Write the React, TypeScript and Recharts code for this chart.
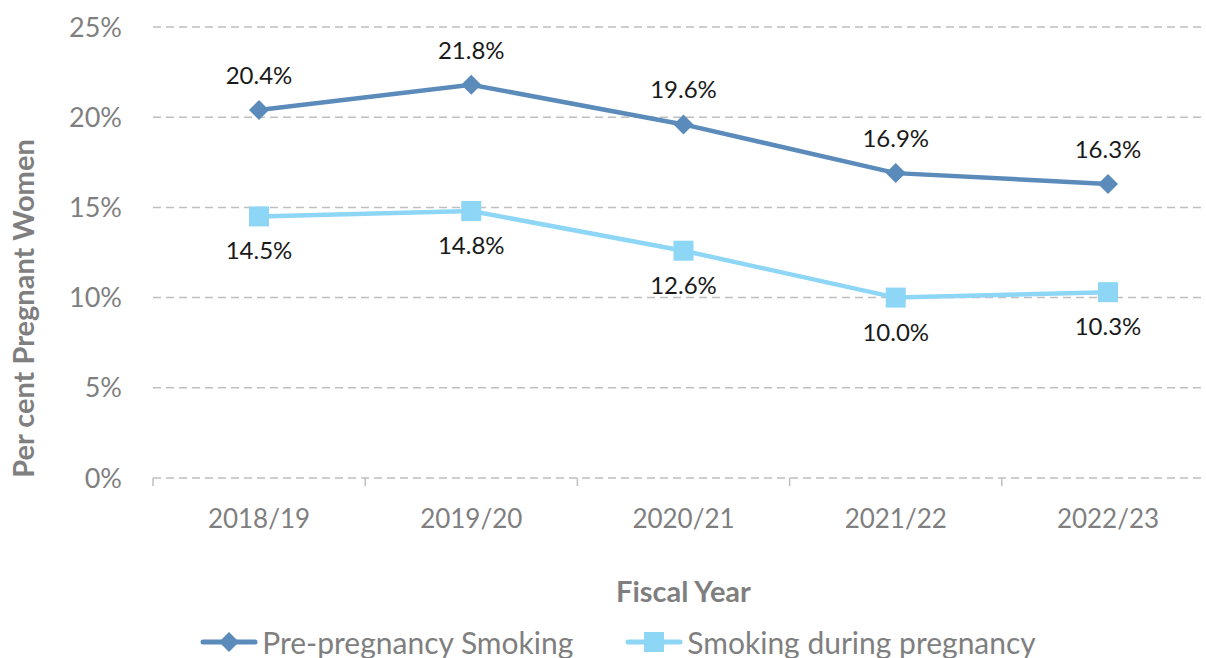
import React from "react";
import {
  CartesianGrid,
  LabelList,
  Legend,
  Line,
  LineChart,
  XAxis,
  YAxis,
} from "recharts";

const years = ["2018/19", "2019/20", "2020/21", "2021/22", "2022/23"];
const prePregnancy = [20.4, 21.8, 19.6, 16.9, 16.3];
const duringPregnancy = [14.5, 14.8, 12.6, 10.0, 10.3];
const yTicks = [0, 5, 10, 15, 20, 25];
const yearEdges = [0, 1, 2, 3, 4, 5];

const DARK = "#5b8bba";
const LIGHT = "#8dd6f6";
const GREY = "#7f7f7f";
const FONT = "Lato, 'Open Sans', sans-serif";

const data = years.map((year, i) => ({
  year,
  pre: prePregnancy[i],
  during: duringPregnancy[i],
}));

const pct = (v: number) => `${Number(v).toFixed(1)}%`;

const Diamond = (props: any) => {
  const { cx, cy, index } = props;
  if (cx == null || cy == null) return <g key={`d-${index}`} />;
  const r = 10;
  return (
    <polygon
      key={`d-${index}`}
      points={`${cx},${cy - r} ${cx + r},${cy} ${cx},${cy + r} ${cx - r},${cy}`}
      fill={DARK}
    />
  );
};

const Square = (props: any) => {
  const { cx, cy, index } = props;
  if (cx == null || cy == null) return <g key={`s-${index}`} />;
  const r = 10;
  return <rect key={`s-${index}`} x={cx - r} y={cy - r} width={2 * r} height={2 * r} fill={LIGHT} />;
};

const LegendIcon = ({ color, diamond }: { color: string; diamond: boolean }) => (
  <svg width={58} height={24} style={{ marginRight: 4 }}>
    <line x1={3} y1={12} x2={55} y2={12} stroke={color} strokeWidth={5} strokeLinecap="round" />
    {diamond ? (
      <polygon points="29,2 39,12 29,22 19,12" fill={color} />
    ) : (
      <rect x={19} y={2} width={20} height={20} fill={color} />
    )}
  </svg>
);

const renderLegend = (props: any) => {
  const items = props.payload || [];
  return (
    <div
      style={{
        display: "flex",
        justifyContent: "center",
        gap: 52,
        fontFamily: FONT,
        fontSize: 30,
        lineHeight: "24px",
        color: GREY,
        paddingLeft: 22,
      }}
    >
      {items.map((it: any) => (
        <div key={it.value} style={{ display: "flex", alignItems: "center" }}>
          <LegendIcon color={it.color} diamond={it.dataKey === "pre"} />
          <span>{it.value}</span>
        </div>
      ))}
    </div>
  );
};

const YTitle = (props: any) => {
  const vb = props.viewBox || { x: 0, y: 0, height: 0 };
  const x = vb.x + 22;
  const y = vb.y + vb.height / 2 + 56;
  return (
    <text
      x={x}
      y={y}
      transform={`rotate(-90, ${x}, ${y})`}
      textAnchor="middle"
      dominantBaseline="central"
      fill={GREY}
      fontWeight="bold"
      fontSize={29}
      fontFamily={FONT}
    >
      Per cent Pregnant Women
    </text>
  );
};

export default function App() {
  return (
    <div style={{ width: 1206, height: 658, overflow: "hidden", background: "#fff" }}>
      <style>{"body{margin:0}"}</style>
      <LineChart
        width={1214}
        height={670}
        data={data}
        margin={{ top: 27, right: 0, left: 0, bottom: 0 }}
        style={{ fontFamily: FONT }}
      >
        <CartesianGrid
          vertical={false}
          stroke="#bfbfbf"
          strokeWidth={1.5}
          strokeDasharray="8 5"
        />
        {/* boundary tick marks between fiscal years */}
        <XAxis
          type="number"
          dataKey="edge"
          domain={[0, 5]}
          allowDataOverflow
          ticks={yearEdges}
          height={1}
          tick={() => <g />}
          axisLine={false}
          tickLine={{ stroke: "#bfbfbf", strokeWidth: 1.5 }}
          tickSize={8}
        />
        <XAxis
          xAxisId="years"
          dataKey="year"
          height={151}
          padding={{ left: 106, right: 106 }}
          axisLine={false}
          tickLine={false}
          tickSize={0}
          tickMargin={31}
          tick={{ fill: GREY, fontSize: 26 }}
          label={{
            value: "Fiscal Year",
            position: "insideBottom",
            offset: 28,
            fill: GREY,
            fontSize: 29,
            fontWeight: "bold",
          }}
        />
        <YAxis
          width={153}
          domain={[0, 25]}
          ticks={yTicks}
          axisLine={false}
          tickLine={false}
          tickSize={0}
          tickMargin={31}
          tick={{ fill: GREY, fontSize: 27 }}
          tickFormatter={(v) => `${v}%`}
          label={{ content: YTitle }}
        />
        <Legend verticalAlign="bottom" height={40} content={renderLegend} />
        <Line
          xAxisId="years"
          dataKey="pre"
          name="Pre-pregnancy Smoking"
          stroke={DARK}
          strokeWidth={4.5}
          dot={Diamond}
          activeDot={false}
          isAnimationActive={false}
        >
          <LabelList
            dataKey="pre"
            position="top"
            offset={26}
            formatter={pct}
            fill="#1a1a1a"
            fontSize={24}
          />
        </Line>
        <Line
          xAxisId="years"
          dataKey="during"
          name="Smoking during pregnancy"
          stroke={LIGHT}
          strokeWidth={4.5}
          dot={Square}
          activeDot={false}
          isAnimationActive={false}
        >
          <LabelList
            dataKey="during"
            position="bottom"
            offset={26}
            formatter={pct}
            fill="#1a1a1a"
            fontSize={24}
          />
        </Line>
      </LineChart>
    </div>
  );
}
